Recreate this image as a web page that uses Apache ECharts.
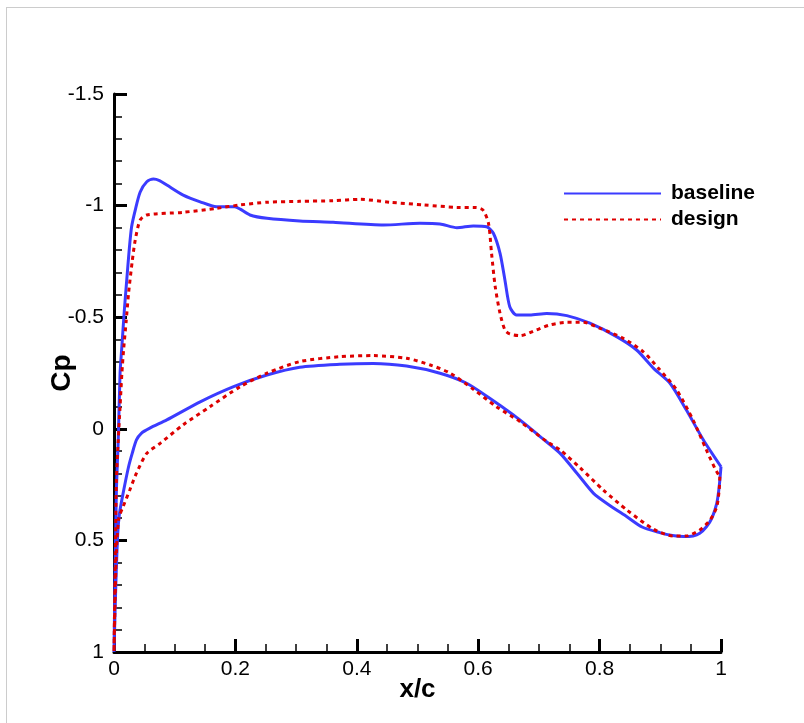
<!DOCTYPE html>
<html>
<head>
<meta charset="utf-8">
<script src="https://cdn.jsdelivr.net/npm/echarts@6/dist/echarts.min.js"></script>
<style>html,body{margin:0;padding:0;background:#fff;}#c{width:804px;height:723px;}</style>
</head>
<body>
<div id="c"></div>
<script>
// x/c and Cp values (lower surface TE->LE, then upper surface LE->TE)
var baselineX = [1.0,0.997,0.993,0.985,0.976,0.965,0.954,0.938,0.92,0.899,0.87,0.845,0.815,0.79,0.765,0.735,0.702,0.68,0.658,0.619,0.581,0.537,0.482,0.427,0.372,0.306,0.252,0.197,0.142,0.087,0.059,0.045,0.037,0.03,0.024,0.015,0.009,0.006,0.003,0.0,
  0.002,0.004,0.007,0.01,0.013,0.017,0.021,0.025,0.029,0.035,0.043,0.054,0.065,0.075,0.087,0.114,0.142,0.169,0.199,0.208,0.224,0.252,0.306,0.361,0.444,0.504,0.537,0.565,0.592,0.614,0.625,0.636,0.644,0.652,0.663,0.685,0.713,0.746,0.784,0.828,0.861,0.889,0.916,0.943,0.971,1.0];
var baselineCp = [0.17,0.26,0.334,0.40,0.439,0.468,0.48,0.483,0.478,0.465,0.44,0.394,0.34,0.289,0.207,0.11,0.035,-0.015,-0.062,-0.137,-0.204,-0.249,-0.281,-0.293,-0.289,-0.276,-0.241,-0.189,-0.121,-0.04,-0.003,0.02,0.05,0.11,0.17,0.289,0.38,0.48,0.70,1.0,
  0.6,0.27,0.05,-0.25,-0.37,-0.53,-0.667,-0.8,-0.905,-0.98,-1.06,-1.107,-1.119,-1.112,-1.092,-1.047,-1.017,-0.995,-0.995,-0.984,-0.958,-0.943,-0.931,-0.925,-0.913,-0.921,-0.918,-0.901,-0.909,-0.905,-0.876,-0.786,-0.667,-0.547,-0.51,-0.51,-0.517,-0.507,-0.473,-0.413,-0.353,-0.271,-0.204,-0.084,0.05,0.17];
var designX = [0.998,0.997,0.993,0.982,0.965,0.943,0.921,0.889,0.845,0.806,0.768,0.735,0.713,0.669,0.63,0.592,0.554,0.521,0.482,0.427,0.372,0.306,0.252,0.208,0.158,0.114,0.076,0.054,0.037,0.026,0.015,0.008,0.004,0.002,0.0,
  0.002,0.004,0.007,0.01,0.013,0.016,0.02,0.024,0.03,0.035,0.043,0.054,0.114,0.169,0.208,0.252,0.306,0.361,0.405,0.455,0.51,0.565,0.597,0.608,0.617,0.622,0.628,0.636,0.644,0.652,0.669,0.696,0.718,0.746,0.773,0.801,0.839,0.872,0.897,0.927,0.954,0.976,0.99,0.998];
var designCp = [0.215,0.274,0.349,0.409,0.453,0.48,0.48,0.45,0.364,0.274,0.175,0.095,0.057,-0.032,-0.099,-0.177,-0.249,-0.286,-0.316,-0.328,-0.323,-0.301,-0.249,-0.189,-0.099,-0.018,0.065,0.11,0.199,0.274,0.349,0.40,0.55,0.75,1.0,
  0.6,0.23,0.05,-0.099,-0.249,-0.36,-0.48,-0.607,-0.75,-0.846,-0.935,-0.958,-0.97,-0.988,-1.003,-1.015,-1.019,-1.022,-1.028,-1.015,-1.003,-0.992,-0.991,-0.98,-0.92,-0.786,-0.637,-0.517,-0.443,-0.425,-0.417,-0.443,-0.465,-0.477,-0.477,-0.45,-0.405,-0.345,-0.271,-0.174,-0.039,0.095,0.177,0.215];
var seriesNames = ['baseline', 'design'];
var xTicks = [0, 0.2, 0.4, 0.6, 0.8, 1];
var yTicks = [-1.5, -1, -0.5, 0, 0.5, 1];

function pairs(xs, ys) { return xs.map(function (x, i) { return [x, ys[i]]; }); }

var chart = echarts.init(document.getElementById('c'), null, { renderer: 'canvas' });
var FONT = 'Liberation Sans, Arial, sans-serif';
chart.setOption({
  animation: false,
  backgroundColor: '#ffffff',
  graphic: [
    { type: 'line', shape: { x1: 6, y1: 7.5, x2: 804, y2: 7.5 }, style: { stroke: '#cccccc', lineWidth: 1 } },
    { type: 'line', shape: { x1: 6.5, y1: 7, x2: 6.5, y2: 723 }, style: { stroke: '#cccccc', lineWidth: 1 } }
  ],
  grid: { left: 114, top: 94, width: 607, height: 558, containLabel: false },
  legend: {
    orient: 'vertical', left: 558, top: 178,
    itemWidth: 97, itemHeight: 14, itemGap: 5,
    itemStyle: { opacity: 0 },
    textStyle: { fontFamily: FONT, fontWeight: 'bold', fontSize: 21, color: '#000', padding: [0, 0, 0, 5] },
    data: seriesNames
  },
  xAxis: {
    type: 'value', min: xTicks[0], max: xTicks[xTicks.length - 1], interval: 0.2,
    name: 'x/c', nameLocation: 'middle', nameGap: 25, nameMoveOverlap: false,
    nameTextStyle: { fontFamily: FONT, fontWeight: 'bold', fontSize: 26, color: '#000' },
    axisLine: { show: true, onZero: false, lineStyle: { color: '#000', width: 3 } },
    axisTick: { show: true, inside: true, length: 13, lineStyle: { color: '#000', width: 3 } },
    minorTick: { show: true, splitNumber: 4, length: 8, lineStyle: { color: '#000', width: 1.5 } },
    axisLabel: { fontFamily: FONT, fontSize: 21, color: '#000', margin: 7 },
    splitLine: { show: false }
  },
  yAxis: {
    type: 'value', inverse: true, min: yTicks[0], max: yTicks[yTicks.length - 1], interval: 0.5,
    name: 'Cp', nameLocation: 'middle', nameGap: 38, nameRotate: 90, nameMoveOverlap: false,
    nameTextStyle: { fontFamily: FONT, fontWeight: 'bold', fontSize: 28, color: '#000' },
    axisLine: { show: true, onZero: false, lineStyle: { color: '#000', width: 3 } },
    axisTick: { show: true, inside: true, length: 13, lineStyle: { color: '#000', width: 3 } },
    minorTick: { show: true, splitNumber: 5, length: 8, lineStyle: { color: '#000', width: 1.5 } },
    axisLabel: { fontFamily: FONT, fontSize: 21, color: '#000', margin: 10 },
    splitLine: { show: false }
  },
  series: [
    { name: seriesNames[0], type: 'line', symbol: 'none', smooth: 0.25,
      data: pairs(baselineX, baselineCp),
      lineStyle: { color: '#3b3bff', width: 3 }, itemStyle: { color: '#3b3bff' } },
    { name: seriesNames[1], type: 'line', symbol: 'none', smooth: 0.25,
      data: pairs(designX, designCp),
      lineStyle: { color: '#dd0000', width: 3, type: [4, 4] }, itemStyle: { color: '#dd0000' } }
  ]
});
</script>
</body>
</html>
